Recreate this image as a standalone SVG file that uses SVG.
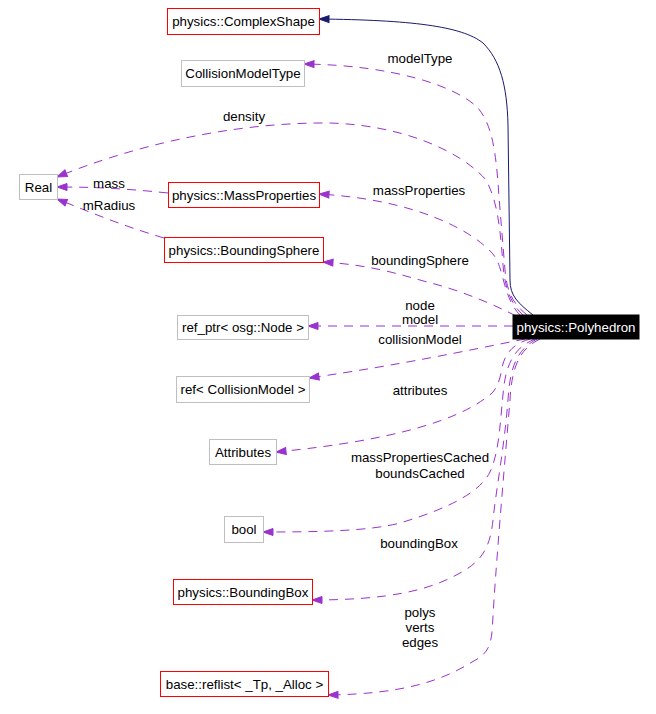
<svg xmlns="http://www.w3.org/2000/svg" width="656" height="714" viewBox="0 0 656 714">
<style>
text{font-family:"Liberation Sans",Arial,sans-serif;font-size:13.3px;fill:#000}
.n text{text-anchor:middle}
.lbl{text-anchor:middle}
.red{fill:#fff;stroke:#ff0000;stroke-width:1}
.gray{fill:#fff;stroke:#bfbfbf;stroke-width:1}
.e{fill:none;stroke:#9a32cd;stroke-width:1;stroke-dasharray:9,7;marker-end:url(#ap)}
.s{fill:none;stroke:#191970;stroke-width:1;marker-end:url(#an)}
</style>
<defs>
<marker id="ap" markerWidth="11" markerHeight="8" refX="10" refY="3.5" orient="auto" markerUnits="userSpaceOnUse" overflow="visible"><path d="M0,0 L10,3.5 L0,7 z" fill="#9a32cd" stroke="#9a32cd" stroke-width="1" stroke-dasharray="none"/></marker>
<marker id="an" markerWidth="11" markerHeight="8" refX="10" refY="3.5" orient="auto" markerUnits="userSpaceOnUse" overflow="visible"><path d="M0,0 L10,3.5 L0,7 z" fill="#191970" stroke="#191970" stroke-width="1"/></marker>
</defs>
<rect width="656" height="714" fill="#fff"/>
<g id="edges">
<path class="s" d="M533,315 C518,303 510,296 510,280 L508,125 C507,85 500,60 483,43 C462,26 410,20 319,19"/>
<path class="e" d="M527,315 C515,305 507,295 505,270 L499,197 C496,150 492,125 478,108 C455,85 390,65 304,64"/>
<path class="e" d="M523,315 C512,305 505,290 503,265 C500,225 497,200 486,180 C460,150 400,125 330,123 C230,122 130,147 57,177"/>
<path class="e" d="M168,193 C120,188 90,187 57,187"/>
<path class="e" d="M164,238 C120,225 90,212 57,199"/>
<path class="e" d="M520,315 C510,305 506,290 502,275 C498,260 495,255 487,248 C470,232 420,200 319,194"/>
<path class="e" d="M516,316 C495,305 460,290 427,282 C395,273 370,265 323,262"/>
<path class="e" d="M513,326 L308,326"/>
<path class="e" d="M525,339 C470,350 400,365 309,378"/>
<path class="e" d="M530,339 C515,343 505,352 502,368 C499,385 495,392 487,397 C460,418 400,440 276,452"/>
<path class="e" d="M535,339 C518,346 508,358 504,385 C500,420 500,450 490,472 C480,492 450,508 400,523 C370,531 320,532 263,532"/>
<path class="e" d="M537,339 C520,348 510,362 508,400 C504,450 496,490 493,520 C490,550 480,562 460,573 C430,590 390,600 312,600"/>
<path class="e" d="M540,339 C522,348 512,362 510,400 C505,460 498,540 494,600 L492,632 C490,650 485,655 472,662 C440,682 400,694 328,695"/>
</g>
<g id="labels">
<text class="lbl" x="420" y="63">modelType</text>
<text class="lbl" x="244" y="121">density</text>
<text class="lbl" x="109" y="188">mass</text>
<text class="lbl" x="109" y="210">mRadius</text>
<text class="lbl" x="419" y="195">massProperties</text>
<text class="lbl" x="420" y="265">boundingSphere</text>
<text class="lbl" x="420" y="310">node</text>
<text class="lbl" x="420" y="324">model</text>
<text class="lbl" x="420" y="344">collisionModel</text>
<text class="lbl" x="420" y="395">attributes</text>
<text class="lbl" x="420" y="462">massPropertiesCached</text>
<text class="lbl" x="420" y="478">boundsCached</text>
<text class="lbl" x="419" y="548">boundingBox</text>
<text class="lbl" x="420" y="617">polys</text>
<text class="lbl" x="420" y="632">verts</text>
<text class="lbl" x="420" y="647">edges</text>
</g>
<g id="n-polyhedron" class="n"><rect x="513" y="315" width="126" height="24" fill="#000" stroke="#000"/><text x="576" y="331.5" style="fill:#fff">physics::Polyhedron</text></g>
<g id="n-complexshape" class="n"><rect class="red" x="167.5" y="8.5" width="152" height="26"/><text x="243.5" y="26">physics::ComplexShape</text></g>
<g id="n-collisionmodeltype" class="n"><rect class="gray" x="181.5" y="60.5" width="123" height="26"/><text x="243" y="78">CollisionModelType</text></g>
<g id="n-real" class="n"><rect class="gray" x="19.5" y="174.5" width="38" height="25"/><text x="38.5" y="191.5">Real</text></g>
<g id="n-massproperties" class="n"><rect class="red" x="168.5" y="182.5" width="151" height="25"/><text x="244" y="199.5">physics::MassProperties</text></g>
<g id="n-boundingsphere" class="n"><rect class="red" x="164.5" y="237.5" width="159" height="25"/><text x="244" y="254.5">physics::BoundingSphere</text></g>
<g id="n-refptr" class="n"><rect class="gray" x="177.5" y="315.5" width="131" height="24"/><text x="243" y="332">ref_ptr&lt; osg::Node &gt;</text></g>
<g id="n-refcollisionmodel" class="n"><rect class="gray" x="176.5" y="376.5" width="133" height="26"/><text x="243" y="394">ref&lt; CollisionModel &gt;</text></g>
<g id="n-attributes" class="n"><rect class="gray" x="209.5" y="439.5" width="67" height="25"/><text x="243" y="456.5">Attributes</text></g>
<g id="n-bool" class="n"><rect class="gray" x="224.5" y="516.5" width="39" height="26"/><text x="244" y="534">bool</text></g>
<g id="n-boundingbox" class="n"><rect class="red" x="173.5" y="579.5" width="139" height="25"/><text x="243" y="596.5">physics::BoundingBox</text></g>
<g id="n-reflist" class="n"><rect class="red" x="160.5" y="671.5" width="168" height="25"/><text x="244.5" y="688.5">base::reflist&lt; _Tp, _Alloc &gt;</text></g>
</svg>
